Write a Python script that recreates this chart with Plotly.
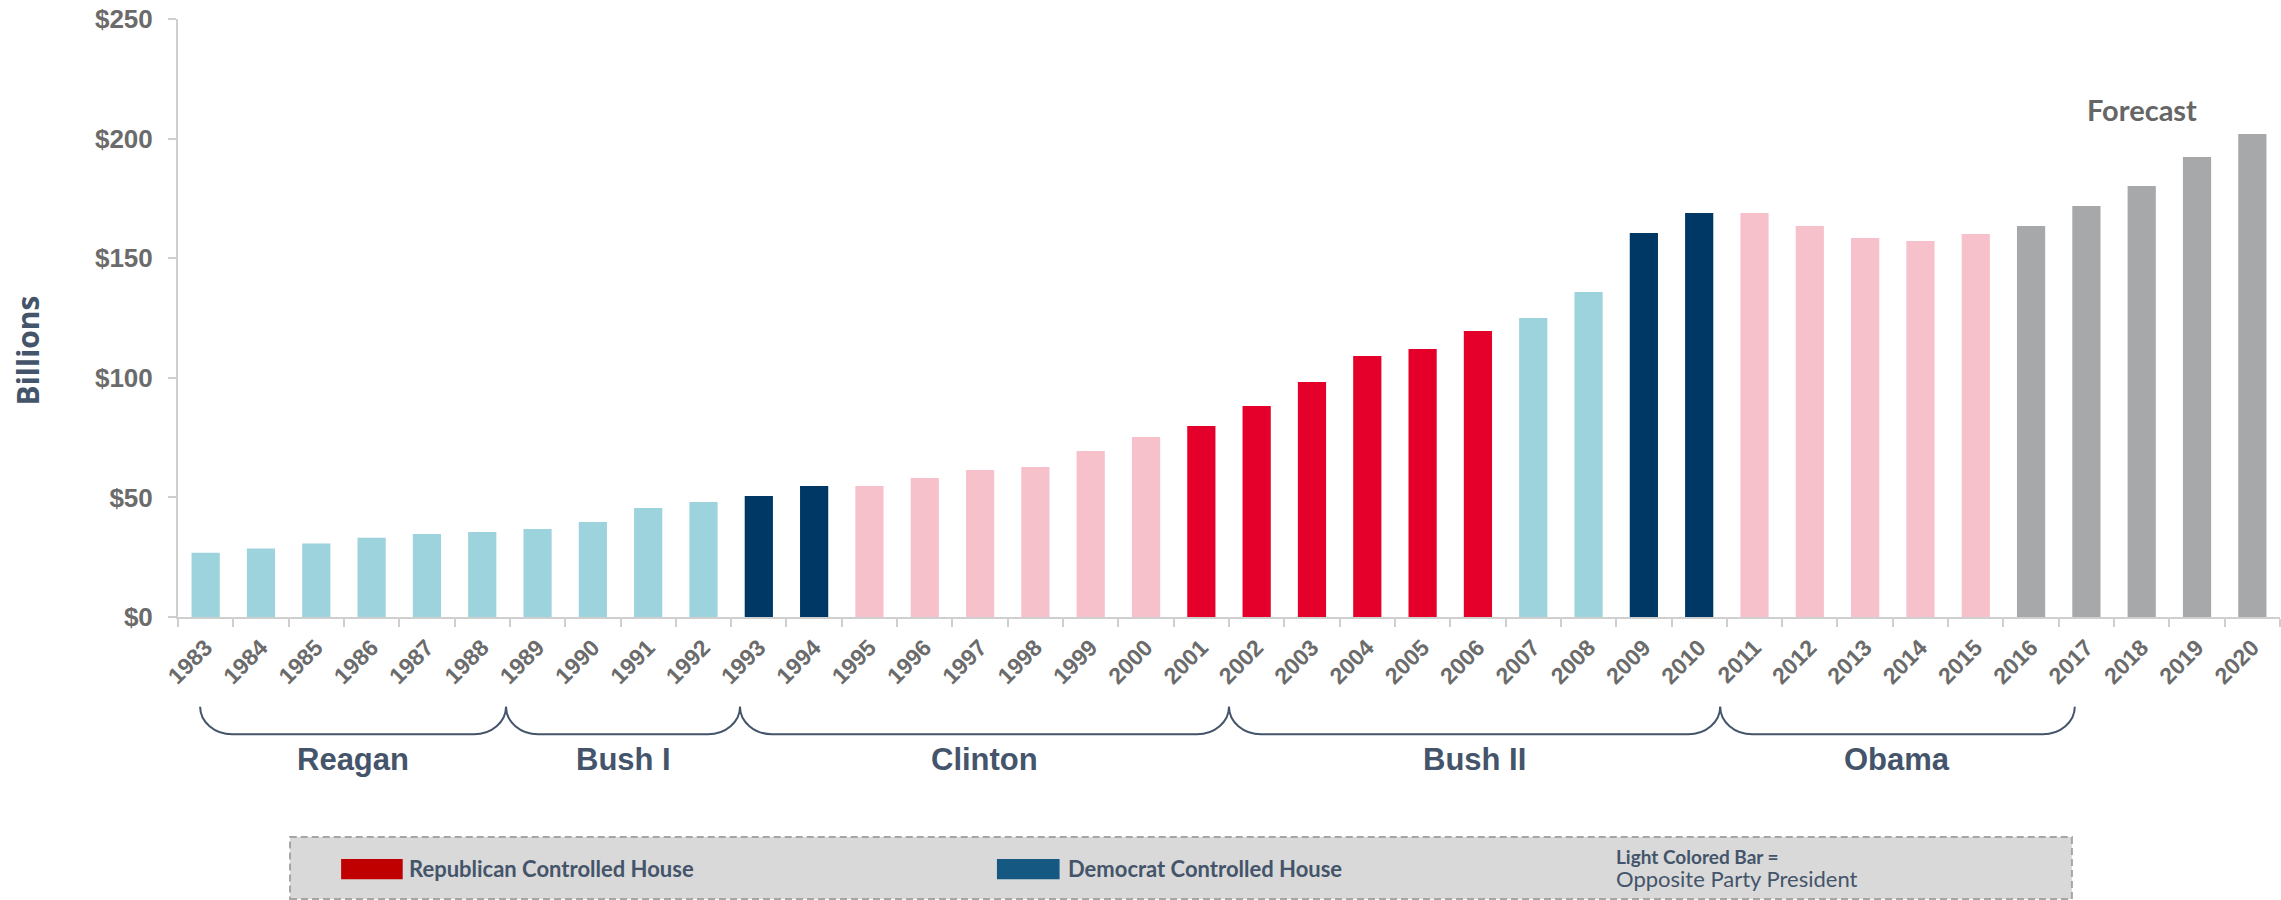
import plotly.graph_objects as go

# ---------------- data ----------------
years = list(range(1983, 2021))
spending = [26.9, 28.6, 30.7, 33.1, 34.7, 35.5, 36.8, 39.7, 45.6, 48.1,
            50.6, 54.8, 54.8, 58.1, 61.5, 62.7, 69.4, 75.3, 79.8, 88.2,
            98.2, 109.1, 112.0, 119.6, 125.0, 135.9, 160.5, 168.9, 168.9, 163.5,
            158.4, 157.2, 160.1, 163.5, 171.8, 180.2, 192.3, 201.9]
bar_group = (["dem_house_opp"] * 10 + ["dem_house"] * 2 + ["rep_house_opp"] * 6 +
             ["rep_house"] * 6 + ["dem_house_opp"] * 2 + ["dem_house"] * 2 +
             ["rep_house_opp"] * 5 + ["forecast"] * 5)
presidents = ["Reagan", "Bush I", "Clinton", "Bush II", "Obama"]
y_ticks = [0, 50, 100, 150, 200, 250]
legend_labels = ["Republican Controlled House", "Democrat Controlled House"]
note_title = "Light Colored Bar ="
note_text = "Opposite Party President"
forecast_label = "Forecast"
y_title = "Billions"

# ---------------- styles / layout constants ----------------
GROUP_COLORS = {
    "dem_house_opp": "#9DD3DD",
    "dem_house": "#003865",
    "rep_house_opp": "#F7C1CB",
    "rep_house": "#E4002B",
    "forecast": "#A7A8AA",
}
LEGEND_COLORS = ["#C00000", "#155882"]
SLATE = "#44546A"
GREY_TXT = "#6B6B6B"
AXIS_GREY = "#CFCFCF"
ARIAL = "Liberation Sans, Arial, sans-serif"

# brace edges in x-axis (year) units
BRACE_EDGES = [1982.9, 1988.43, 1992.66, 2001.5, 2010.38, 2016.79]
BRACE_TOP, BRACE_BOT = -0.150, -0.196   # paper y
BRACE_R = 0.58                           # corner radius in year units
NAME_Y = -0.2375

fig = go.Figure()
fig.add_trace(go.Bar(
    x=years, y=spending,
    marker=dict(color=[GROUP_COLORS[g] for g in bar_group], line=dict(width=0)),
    width=0.51, hoverinfo="x+y", showlegend=False,
))

shapes = []
annotations = []

# braces
k = 0.552
for i, name in enumerate(presidents):
    x0, x1 = BRACE_EDGES[i], BRACE_EDGES[i + 1]
    dy = BRACE_BOT - BRACE_TOP
    path = (f"M {x0},{BRACE_TOP} "
            f"C {x0},{BRACE_TOP + k * dy} {x0 + BRACE_R * (1 - k)},{BRACE_BOT} {x0 + BRACE_R},{BRACE_BOT} "
            f"L {x1 - BRACE_R},{BRACE_BOT} "
            f"C {x1 - BRACE_R * (1 - k)},{BRACE_BOT} {x1},{BRACE_TOP + k * dy} {x1},{BRACE_TOP}")
    shapes.append(dict(type="path", path=path, xref="x", yref="paper",
                       line=dict(color=SLATE, width=2), layer="above"))
    annotations.append(dict(x=(x0 + x1) / 2, y=NAME_Y, xref="x", yref="paper",
                            text=f"<b>{name}</b>", showarrow=False,
                            font=dict(family=ARIAL, size=31, color=SLATE),
                            xanchor="center", yanchor="middle"))

# legend box
shapes.append(dict(type="rect", xref="paper", yref="paper",
                   x0=0.0533, x1=0.901, y0=-0.4716, y1=-0.368,
                   fillcolor="#D9D9D9", line=dict(color="#A6A6A6", width=2, dash="7px,4px"),
                   layer="below"))
leg_rects = [(0.0776, 0.1069), (0.3896, 0.4194)]
leg_text_x = [0.1088, 0.4225]
for (a, b), col, tx, lab in zip(leg_rects, LEGEND_COLORS, leg_text_x, legend_labels):
    shapes.append(dict(type="rect", xref="paper", yref="paper", x0=a, x1=b,
                       y0=-0.4386, y1=-0.4047, fillcolor=col, line=dict(width=0)))
    annotations.append(dict(x=tx, y=-0.4206, xref="paper", yref="paper",
                            text=f"<b>{lab}</b>", showarrow=False,
                            font=dict(family="Lato, sans-serif", size=22, color=SLATE),
                            xanchor="left", yanchor="middle"))
annotations.append(dict(x=0.6832, y=-0.4013, xref="paper", yref="paper",
                        text=f"<b>{note_title}</b>", showarrow=False,
                        font=dict(family="Lato, sans-serif", size=19, color=SLATE),
                        xanchor="left", yanchor="middle"))
annotations.append(dict(x=0.6832, y=-0.4370, xref="paper", yref="paper",
                        text=note_text, showarrow=False,
                        font=dict(family="Lato, sans-serif", size=22, color=SLATE),
                        xanchor="left", yanchor="middle"))

# forecast label
fc_years = [y for y, g in zip(years, bar_group) if g == "forecast"]
annotations.append(dict(x=sum(fc_years) / len(fc_years), y=212, xref="x", yref="y",
                        text=f"<b>{forecast_label}</b>", showarrow=False,
                        font=dict(family="Lato, sans-serif", size=29, color="#666666"),
                        xanchor="center", yanchor="middle"))

# y-axis title
annotations.append(dict(x=-0.0716, y=0.4465, xref="paper", yref="paper",
                        text=f"<b>{y_title}</b>", textangle=-90, showarrow=False,
                        font=dict(family="Open Sans, sans-serif", size=30, color=SLATE),
                        xanchor="center", yanchor="middle"))

fig.update_layout(
    width=2281, height=900,
    margin=dict(l=178, r=1, t=19, b=283),
    plot_bgcolor="white", paper_bgcolor="white",
    shapes=shapes, annotations=annotations,
    xaxis=dict(
        range=[years[0] - 0.5, years[-1] + 0.5],
        tickmode="array", tickvals=years, ticktext=[str(y) for y in years],
        tickangle=-45, ticks="", showgrid=False, zeroline=False,
        showline=True, linecolor=AXIS_GREY, linewidth=2,
        tickfont=dict(family=ARIAL, size=23, color=GREY_TXT, weight="bold"),
        ticklabelstandoff=6,
        minor=dict(tickmode="array", tickvals=[y - 0.5 for y in years] + [years[-1] + 0.5],
                   ticks="outside", ticklen=8, tickwidth=2, tickcolor=AXIS_GREY, showgrid=False),
    ),
    yaxis=dict(
        range=[0, 250], tickmode="array", tickvals=y_ticks,
        ticktext=[f"${v}" for v in y_ticks],
        ticks="outside", ticklen=8, tickwidth=2, tickcolor=AXIS_GREY,
        showline=True, linecolor=AXIS_GREY, linewidth=2,
        showgrid=False, zeroline=False,
        tickfont=dict(family=ARIAL, size=26, color=GREY_TXT, weight="bold"),
        ticklabelstandoff=10,
    ),
    bargap=0.49,
)

fig.write_html("out.html")
